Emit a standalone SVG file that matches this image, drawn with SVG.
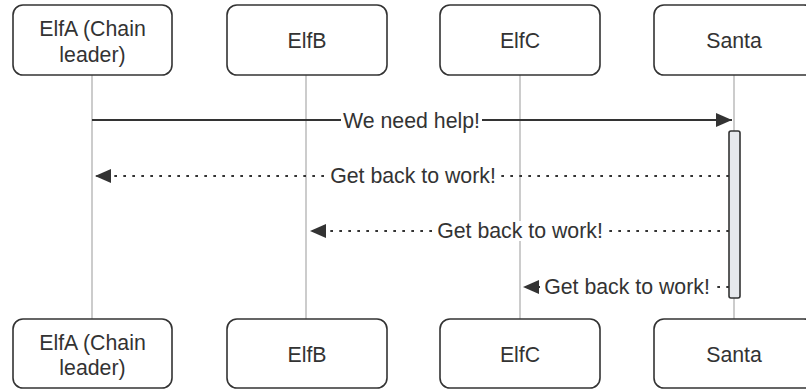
<svg xmlns="http://www.w3.org/2000/svg" width="806" height="390" viewBox="0 0 806 390">
<defs>
<style>
.actor{fill:#fff;stroke:#333;stroke-width:1.6}
.lbl{font-family:"Liberation Sans",Arial,sans-serif;font-size:21.3px;fill:#333;text-anchor:middle}
.life{stroke:#999;stroke-width:1}
.msg{stroke:#333;stroke-width:2;fill:none}
.dot{stroke-dasharray:2.7 6.3}
.bg{fill:#fff}
.act{fill:#e6e8ec;stroke:#333;stroke-width:1.6}
</style>
<marker id="ah" viewBox="0 0 16 14" refX="16" refY="7" markerWidth="16" markerHeight="14" markerUnits="userSpaceOnUse" orient="auto">
<path d="M0,0 L16,7 L0,14 z" fill="#333"/>
</marker>
</defs>
<g id="lifelines">
<line class="life" x1="92" y1="75" x2="92" y2="320"/>
<line class="life" x1="306" y1="75" x2="306" y2="320"/>
<line class="life" x1="520" y1="75" x2="520" y2="320"/>
<line class="life" x1="734" y1="75" x2="734" y2="320"/>
</g>
<g id="actor-elfa-top"><rect class="actor" x="13" y="5" width="159" height="70" rx="10"/><text class="lbl" x="92.5" y="36">ElfA (Chain</text><text class="lbl" x="92.5" y="62">leader)</text></g>
<g id="actor-elfb-top"><rect class="actor" x="227" y="5" width="160" height="70" rx="10"/><text class="lbl" x="307" y="48">ElfB</text></g>
<g id="actor-elfc-top"><rect class="actor" x="440" y="5" width="160" height="70" rx="10"/><text class="lbl" x="520" y="48">ElfC</text></g>
<g id="actor-santa-top"><rect class="actor" x="654" y="5" width="160" height="70" rx="10"/><text class="lbl" x="734" y="48">Santa</text></g>
<g id="activation"><rect class="act" x="729" y="131" width="11" height="167" rx="2"/></g>
<g id="connectors">
<line class="msg" x1="92" y1="120" x2="732" y2="120" marker-end="url(#ah)"/>
<line class="msg dot" x1="729" y1="176" x2="95" y2="176" marker-end="url(#ah)"/>
<line class="msg dot" x1="729" y1="231" x2="310" y2="231" marker-end="url(#ah)"/>
<line class="msg dot" x1="729" y1="287" x2="523" y2="287" marker-end="url(#ah)"/>
</g>
<g id="labels">
<rect class="bg" x="341" y="110" width="141" height="20"/><text class="lbl" x="411.5" y="127.5">We need help!</text>
<rect class="bg" x="328" y="166" width="170" height="20"/><text class="lbl" x="413" y="183">Get back to work!</text>
<rect class="bg" x="435" y="221" width="170" height="20"/><text class="lbl" x="520" y="238">Get back to work!</text>
<rect class="bg" x="542" y="277" width="170" height="20"/><text class="lbl" x="627" y="294">Get back to work!</text>
</g>
<g id="actor-elfa-bottom"><rect class="actor" x="13" y="319" width="159" height="69" rx="10"/><text class="lbl" x="92.5" y="350">ElfA (Chain</text><text class="lbl" x="92.5" y="375">leader)</text></g>
<g id="actor-elfb-bottom"><rect class="actor" x="227" y="319" width="160" height="69" rx="10"/><text class="lbl" x="307" y="362">ElfB</text></g>
<g id="actor-elfc-bottom"><rect class="actor" x="440" y="319" width="160" height="69" rx="10"/><text class="lbl" x="520" y="362">ElfC</text></g>
<g id="actor-santa-bottom"><rect class="actor" x="654" y="319" width="160" height="69" rx="10"/><text class="lbl" x="734" y="362">Santa</text></g>
</svg>
